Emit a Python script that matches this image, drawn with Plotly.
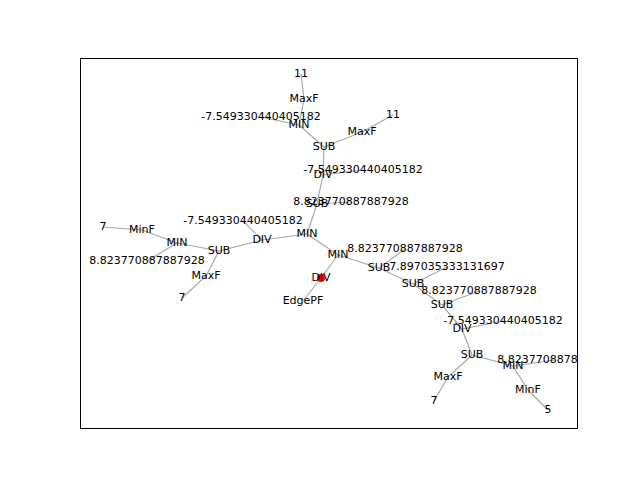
import plotly.graph_objects as go

# node labels
labels = [
    "DIV", "EdgePF", "MIN", "MIN", "SUB", "SUB", "DIV", "8.823770887887928",
    "DIV", "-7.549330440405182", "SUB", "MIN", "MaxF", "11", "MaxF",
    "-7.549330440405182", "11", "SUB", "-7.549330440405182", "MIN", "MaxF",
    "7", "MinF", "8.823770887887928", "7", "8.823770887887928", "SUB",
    "7.897035333131697", "SUB", "8.823770887887928", "DIV",
    "-7.549330440405182", "SUB", "MaxF", "7", "MIN", "8.823770887887928",
    "MinF", "5",
]
# node layout positions (layout units)
node_x = [240, 222, 257, 226, 298, 236, 181, 270, 242, 282, 243, 218, 281,
          312, 223, 180, 220, 138, 162, 96, 125, 101, 61, 66, 22, 324, 332,
          366, 361, 398, 381, 422, 391, 367, 353, 432, 474, 447, 467]
node_y = [150, 127, 173, 194, 160, 224, 188, 226, 253, 258, 281, 303, 296,
          313, 329, 311, 354, 177, 207, 185, 152, 130, 198, 167, 201, 179,
          144, 161, 123, 137, 99, 107, 73, 51, 27, 62, 68, 38, 18]
# parent of each node (tree edges)
parent = [None, 0, 0, 2, 2, 3, 3, 5, 5, 8, 8, 10, 10, 12, 11, 11, 14, 6, 6,
          17, 17, 20, 19, 19, 22, 4, 4, 26, 26, 28, 28, 30, 30, 32, 33, 32,
          35, 35, 37]
highlight = [0]

ex, ey = [], []
for i, p in enumerate(parent):
    if p is None:
        continue
    ex += [node_x[p], node_x[i], None]
    ey += [node_y[p], node_y[i], None]

fig = go.Figure()
fig.add_trace(go.Scatter(x=ex, y=ey, mode="lines",
                         line=dict(color="#a8a8a8", width=1.2),
                         hoverinfo="skip", showlegend=False))
fig.add_trace(go.Scatter(x=[node_x[i] for i in highlight],
                         y=[node_y[i] for i in highlight],
                         mode="markers", marker=dict(color="red", size=8),
                         showlegend=False))
fig.add_trace(go.Scatter(x=node_x, y=node_y, mode="text", text=labels,
                         textposition="middle center",
                         textfont=dict(family="DejaVu Sans", size=11,
                                       color="black"),
                         cliponaxis=True, showlegend=False))

axis = dict(showgrid=False, zeroline=False, showticklabels=False,
            ticks="", showline=True, linecolor="black", linewidth=1,
            mirror=True, fixedrange=True)
fig.update_layout(
    width=632, height=472,
    margin=dict(l=73, r=63, t=51, b=52),
    paper_bgcolor="white", plot_bgcolor="white",
    xaxis=dict(range=[0, 496], **axis),
    yaxis=dict(range=[0, 369], **axis),
    showlegend=False,
)
fig.write_html("out.html")
